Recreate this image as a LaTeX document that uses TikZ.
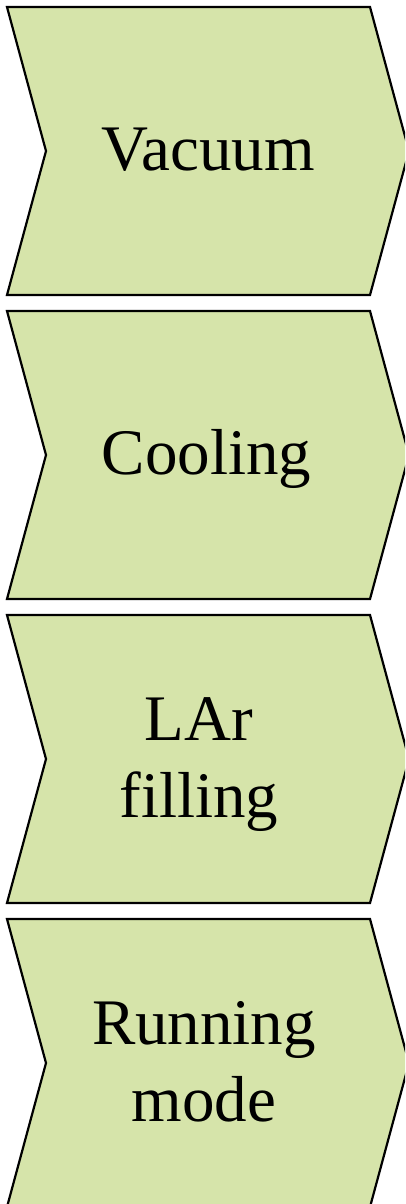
\documentclass[tikz,border=0pt]{standalone}
\usepackage{fontspec}
\setmainfont{Liberation Serif}
\definecolor{chevfill}{HTML}{D6E4AA}
\begin{document}
\begin{tikzpicture}[x=1pt,y=-1pt,
  chev/.style={draw=black,line width=2.2pt,fill=chevfill,line join=miter},
  lbl/.style={inner sep=0pt,anchor=base,font=\fontsize{65}{77}\selectfont}]
\useasboundingbox (0,0) rectangle (405,1204);
\begin{scope}
\clip (0,0) rectangle (405,1204);
\foreach \t [count=\i from 0] in {7,311,615,919}{
  \pgfmathsetmacro{\b}{\t+288}
  \pgfmathsetmacro{\m}{\t+144}
  \draw[chev] (7,\t) -- (370,\t) -- (409,\m) -- (370,\b) -- (7,\b) -- (46,\m) -- cycle;
}
\end{scope}
\node[lbl] (vac) at (208,170.5) {Vacuum};
\node[lbl] (cool) at (206.5,474.5) {Cooling};
\node[lbl] (lar) at (199,740.5) {\begin{tabular}[t]{@{}c@{}}LAr\\filling\end{tabular}};
\node[lbl] (run) at (204,1044.5) {\begin{tabular}[t]{@{}c@{}}Running\\mode\end{tabular}};
\end{tikzpicture}
\end{document}
